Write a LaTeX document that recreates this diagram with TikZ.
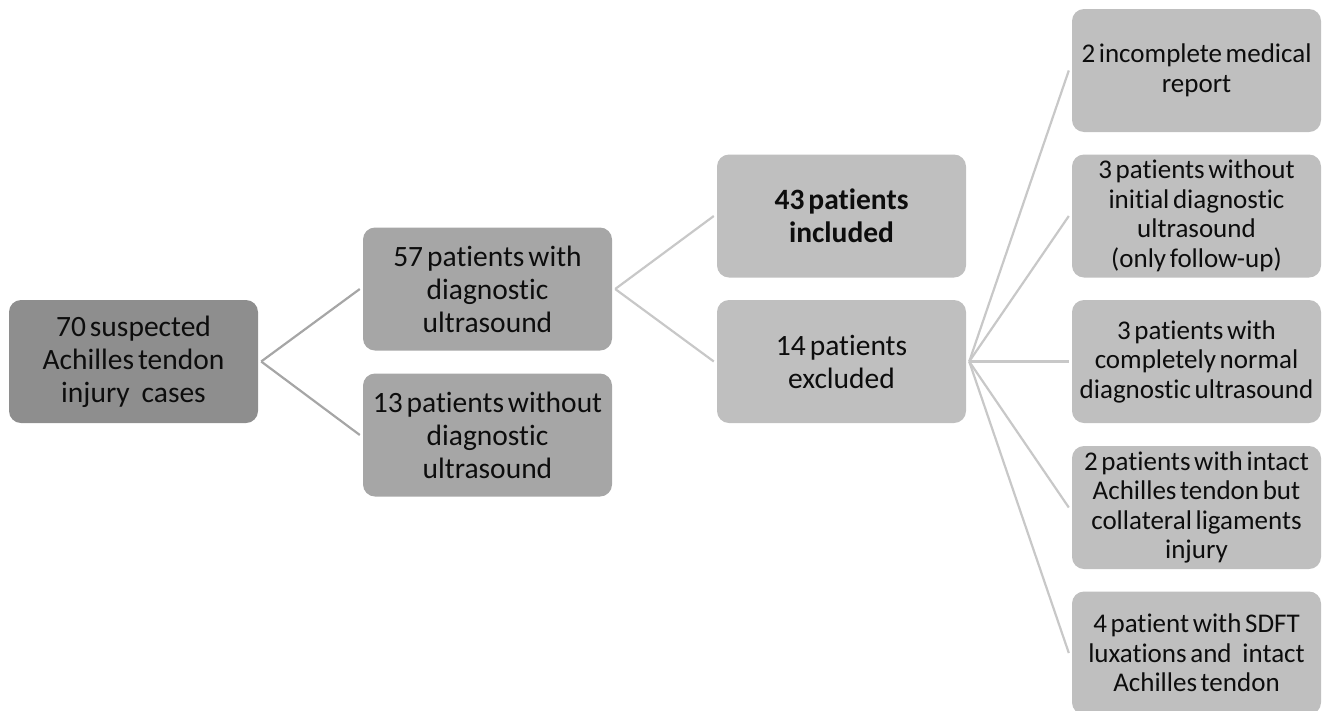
\documentclass[tikz,border=0pt]{standalone}
\usepackage{fontspec}
\setmainfont[Ligatures={NoCommon}, WordSpace=0.6]{Carlito}
\definecolor{boxA}{HTML}{8E8E8E}
\definecolor{boxB}{HTML}{A6A6A6}
\definecolor{boxC}{HTML}{BFBFBF}
\definecolor{lineA}{HTML}{A6A6A6}
\definecolor{lineB}{HTML}{C8C8C8}
\newcommand{\wsp}{\hspace{0.4em}}
\begin{document}
\begin{tikzpicture}[x=1pt,y=-1pt,
  box/.style={rounded corners=12pt, minimum width=249pt, minimum height=123pt, inner sep=0pt, align=center, text=black!95},
  bigtxt/.style={font=\fontsize{29.5}{33}\selectfont},
  smalltxt/.style={font=\fontsize{27}{29.5}\selectfont},
  conA/.style={draw=lineA, line width=2.2pt},
  conB/.style={draw=lineB, line width=2.2pt}]
\useasboundingbox (0,0) rectangle (1330,710);
\clip (0,0) rectangle (1330,710);
\node[box, bigtxt, fill=boxA] (A) at (133.5,361.5) {70 suspected\\Achilles tendon\\injury\wsp cases};
\node[box, bigtxt, fill=boxB] (B1) at (487.5,289) {57 patients with\\diagnostic\\ultrasound};
\node[box, bigtxt, fill=boxB] (B2) at (487.5,435) {13 patients without\\diagnostic\\ultrasound};
\node[box, fill=boxC, font=\fontsize{29.5}{33}\selectfont\bfseries] (C1) at (841.5,216) {43 patients\\included};
\node[box, bigtxt, fill=boxC] (C2) at (841.5,361.5) {14 patients\\excluded};
\node[box, smalltxt, fill=boxC] (D1) at (1196.5,70.5) {2 incomplete medical\\report};
\node[box, smalltxt, fill=boxC] (D2) at (1196.5,216) {3 patients without\\initial diagnostic\\ultrasound\\(only follow-up)};
\node[box, smalltxt, fill=boxC] (D3) at (1196.5,361.5) {3 patients with\\completely normal\\diagnostic ultrasound};
\node[box, smalltxt, fill=boxC] (D4) at (1196.5,507.5) {2 patients with intact\\Achilles tendon but\\collateral ligaments\\injury};
\node[box, smalltxt, fill=boxC] (D5) at (1196.5,653) {4 patient with SDFT\\luxations and\wsp intact\\Achilles tendon};
\draw[conA] ([xshift=3pt]A.east) -- ([xshift=-3pt]B1.west);
\draw[conA] ([xshift=3pt]A.east) -- ([xshift=-3pt]B2.west);
\draw[conB] ([xshift=3pt]B1.east) -- ([xshift=-3pt]C1.west);
\draw[conB] ([xshift=3pt]B1.east) -- ([xshift=-3pt]C2.west);
\foreach \d in {D1,D2,D3,D4,D5}
  \draw[conB] ([xshift=3pt]C2.east) -- ([xshift=-3pt]\d.west);
\end{tikzpicture}
\end{document}
